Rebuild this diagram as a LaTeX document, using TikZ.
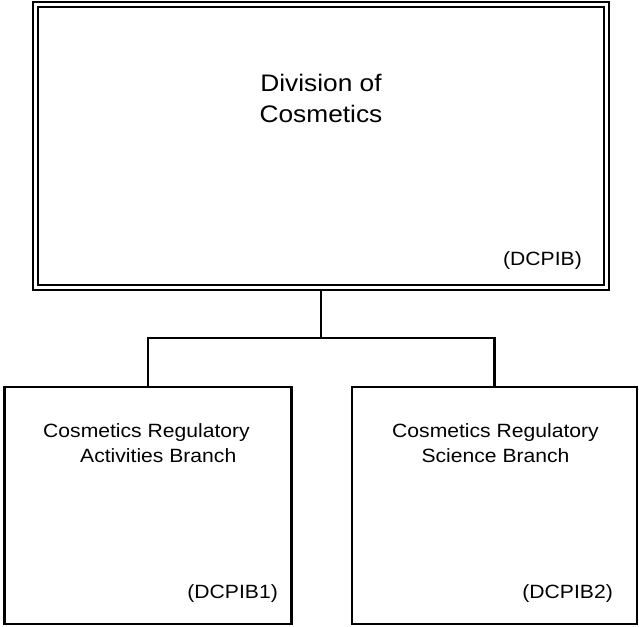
\documentclass[tikz,border=0pt]{standalone}
\usepackage{fontspec}
\setmainfont[FakeStretch = 1.1]{Liberation Sans}

\begin{document}
\begin{tikzpicture}[
  x = 1pt, y = -1pt,
  every node/.style = {inner sep = 0pt},
  division/.style = {draw, double, line width = 2pt, double distance = 3pt,
                     outer sep = 3.5pt, minimum width = 570.5pt, minimum height = 283pt},
  branch/.style = {draw, line width = 2.5pt, minimum height = 237pt},
  link/.style = {line width = 2.5pt},
  unitname/.style = {font = \fontsize{19.2}{25}\selectfont, anchor = base},
  unitcode/.style = {font = \fontsize{19.2}{25}\selectfont, anchor = base east},
  ]
  \useasboundingbox (0,0) rectangle (639,626);

  \node[division] (div) at (320.75,146) {};
  \node[branch, minimum width = 287pt] (cra) at (148,505.5) {};
  \node[branch, minimum width = 285pt] (crs) at (494.5,505.5) {};

  \node[unitname, align = center, font = \fontsize{23.9}{31}\selectfont] (divname) at (321,122.7)
    {Division of\\Cosmetics};
  \node[unitcode] (divcode) at (582,265) {(DCPIB)};

  \node[unitname, anchor = base west, align = left] (craname) at (43,462)
    {Cosmetics Regulatory\\\hspace*{37pt}Activities Branch};
  \node[unitcode] (cracode) at (278,598) {(DCPIB1)};

  \node[unitname, align = center] (crsname) at (495.5,462)
    {Cosmetics Regulatory\\Science Branch};
  \node[unitcode] (crscode) at (613,598) {(DCPIB2)};

  \draw[link] (div.south) -- ++(0,47) -| (cra.north);
  \draw[link] (div.south) -- ++(0,47) -| (crs.north);
\end{tikzpicture}
\end{document}
